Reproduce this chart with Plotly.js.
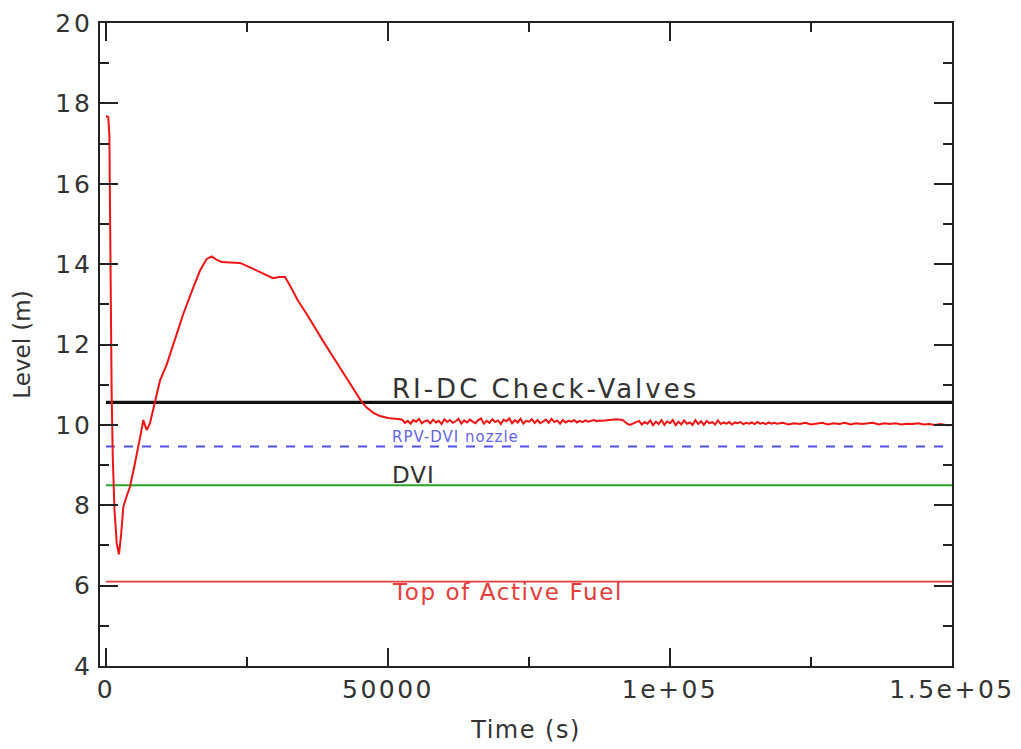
<!DOCTYPE html>
<html>
<head>
<meta charset="utf-8">
<script src="https://cdn.plot.ly/plotly-3.0.1.min.js"></script>
<style>html,body{margin:0;padding:0;background:#fff;}</style>
</head>
<body>
<div id="chart" style="width:1021px;height:749px;"></div>
<script>
// ---- Level history (time in s, level in m) ----
const timeS = [
  0, 400, 600, 800, 1000, 1200, 1500, 1900, 2300, 2700, 3070, 3600, 4250, 5000, 5730, 6200, 6610, 6900, 7210, 7800,
  8690, 9570, 10760, 12200, 13700, 15480, 16670, 17850, 18740, 19500, 20510, 22000, 23760, 25530, 27000, 28490, 29610, 30700, 31740, 32620,
  34000, 35580, 37000, 38470, 40000, 41490, 43000, 44450, 45300, 46220, 47400, 48580, 50000, 52130,
  52500, 53000, 53500, 54000, 54500, 55000, 55500, 56000, 56500, 57000,
  57500, 58000, 58500, 59000, 59500, 60000, 60500, 61000, 61500, 62000,
  62500, 63000, 63500, 64000, 64500, 65000, 65500, 66000, 66500, 67000,
  67500, 68000, 68500, 69000, 69500, 70000, 70500, 71000, 71500, 72000,
  72500, 73000, 73500, 74000, 74500, 75000, 75500, 76000, 76500, 77000,
  77500, 78000, 78500, 79000, 79500, 80000, 80500, 81000, 81500, 82000,
  82500, 83000, 83500, 84000, 84500, 85000, 85500, 86000, 86500, 87000, 87500,
  88000, 89400, 90500, 91600, 92400, 92900, 93500, 94000,
  94500, 95000, 95500, 96000, 96500, 97000, 97500, 98000, 98500, 99000,
  99500, 100000, 100500, 101000, 101500, 102000, 102500, 103000, 103500, 104000,
  104500, 105000, 105500, 106000, 106500, 107000, 107500, 108000, 108500, 109000,
  109500, 110000, 110500, 111000, 111500, 112000, 112500, 113000, 113500, 114000,
  114500, 115000, 115500, 116000, 116500, 117000, 117500, 118000, 118500, 119000,
  120000, 121000, 122000, 123000, 124000, 125000, 126000, 127000, 128000, 129000,
  130000, 131000, 132000, 133000, 134000, 135000, 136000, 137000, 138000, 139000,
  140000, 141000, 142000, 143000, 144000, 145000, 146000, 147000, 148000, 149000, 150000
];
const levelM = [
  17.68, 17.66, 17.2, 13.5, 10.8, 9.2, 7.9, 7.05, 6.78, 7.3, 7.96, 8.2, 8.46, 8.95, 9.42, 9.8, 10.12, 10.0, 9.87, 10.04,
  10.55, 11.1, 11.5, 12.1, 12.76, 13.42, 13.84, 14.13, 14.19, 14.12, 14.05, 14.04, 14.03, 13.92, 13.82, 13.72, 13.65, 13.68, 13.68, 13.47,
  13.1, 12.76, 12.42, 12.09, 11.75, 11.43, 11.1, 10.77, 10.58, 10.43, 10.3, 10.22, 10.17, 10.14,
  10.13, 10.05, 10.10, 10.03, 10.12, 10.08, 10.15, 10.04, 10.09, 10.11,
  10.04, 10.13, 10.06, 10.10, 10.02, 10.14, 10.07, 10.12, 10.05, 10.09,
  10.15, 10.03, 10.11, 10.06, 10.13, 10.08, 10.04, 10.12, 10.16, 10.03,
  10.10, 10.05, 10.14, 10.07, 10.11, 10.02, 10.13, 10.09, 10.16, 10.04,
  10.12, 10.06, 10.15, 10.03, 10.10, 10.08, 10.14, 10.05, 10.12, 10.04,
  10.09, 10.13, 10.05, 10.15, 10.07, 10.11, 10.03, 10.12, 10.06, 10.10,
  10.08, 10.12, 10.06, 10.10, 10.07, 10.11, 10.08, 10.10, 10.12, 10.09, 10.11,
  10.10, 10.13, 10.14, 10.12, 10.03, 10.00, 10.04, 10.08,
  10.10, 10.01, 10.07, 10.03, 10.11, 9.99, 10.08, 10.02, 10.12, 10.00,
  10.09, 10.04, 10.12, 9.99, 10.08, 10.01, 10.11, 10.03, 10.06, 10.00,
  10.12, 10.02, 10.09, 10.00, 10.10, 10.04, 10.07, 10.01, 10.11, 10.02,
  10.06, 10.03, 10.07, 10.01, 10.06, 10.04, 10.07, 10.02, 10.05, 10.03,
  10.06, 10.02, 10.07, 10.03, 10.05, 10.02, 10.06, 10.03, 10.05, 10.03,
  10.05, 10.01, 10.04, 10.02, 10.05, 10.01, 10.03, 10.05, 10.01, 10.04,
  10.02, 10.05, 10.01, 10.04, 10.02, 10.03, 10.05, 10.01, 10.04, 10.02,
  10.04, 10.01, 10.03, 10.02, 10.04, 10.01, 10.02, 10.00, 10.02, 9.99, 10.00
];

// ---- Reference elevations ----
const refNames  = ["RI-DC Check-Valves", "RPV-DVI nozzle", "DVI", "Top of Active Fuel"];
const refLevels = [10.56, 9.46, 8.50, 6.10];
const refSpan   = [0, 150000];
const refLabelY = [10.89, 9.70, 8.75, 5.84];

// ---- Axis ticks ----
const xTickVals = [0, 50000, 100000, 150000];
const xTickText = ["0", "50000", "1e+05", "1.5e+05"];
const yTickVals = [4, 6, 8, 10, 12, 14, 16, 18, 20];
const yTickText = ["4", "6", "8", "10", "12", "14", "16", "18", "20"];

const refStyles = [
  {color: "#111111", width: 3.4, dash: "solid"},
  {color: "rgb(80,80,235)", width: 2, dash: "dash"},
  {color: "rgb(40,165,40)", width: 2, dash: "solid"},
  {color: "rgb(230,60,60)", width: 1.6, dash: "solid"}
];
const labelStyles = [
  {color: "#333333", size: 26, spacing: 3},
  {color: "rgb(100,100,235)", size: 15, spacing: 1},
  {color: "#333333", size: 23, spacing: 1},
  {color: "rgb(230,60,60)", size: 23, spacing: 1.6}
];

const traces = refLevels.map((lv, i) => ({
  x: refSpan, y: [lv, lv], mode: "lines", type: "scatter",
  line: refStyles[i], hoverinfo: "skip", showlegend: false
}));
traces.push({
  x: timeS, y: levelM, mode: "lines", type: "scatter",
  line: {color: "rgb(240,20,20)", width: 2}, showlegend: false
});

const annotations = refNames.map((t, i) => ({
  text: t, x: 50300, y: refLabelY[i], xref: "x", yref: "y",
  xanchor: "left", yanchor: "middle", showarrow: false,
  font: {family: "DejaVu Sans", size: labelStyles[i].size, color: labelStyles[i].color}
}));

const axisCommon = {
  showgrid: false, zeroline: false, showline: true, linecolor: "#222", linewidth: 2,
  mirror: "allticks", ticks: "inside", ticklen: 18, tickwidth: 2, tickcolor: "#222",
  tickfont: {family: "DejaVu Sans", size: 25, color: "#333"}
};

const layout = {
  width: 1021, height: 749,
  margin: {l: 100, r: 69, t: 23, b: 83},
  paper_bgcolor: "#fff", plot_bgcolor: "#fff",
  showlegend: false,
  xaxis: Object.assign({}, axisCommon, {
    range: [-1064, 150000], tickmode: "array", tickvals: xTickVals, ticktext: xTickText,
    minor: {dtick: 25000, tick0: 0, ticks: "inside", ticklen: 9, tickwidth: 2, tickcolor: "#222"},
    title: {text: "Time (s)", font: {family: "DejaVu Sans", size: 24, color: "#333"}, standoff: 18}
  }),
  yaxis: Object.assign({}, axisCommon, {
    range: [4, 20], tickmode: "array", tickvals: yTickVals, ticktext: yTickText,
    minor: {dtick: 1, tick0: 0, ticks: "inside", ticklen: 9, tickwidth: 2, tickcolor: "#222"},
    title: {text: "Level (m)", font: {family: "DejaVu Sans", size: 23, color: "#333"}, standoff: 24}
  }),
  annotations: annotations
};

Plotly.newPlot("chart", traces, layout, {displayModeBar: false, staticPlot: true}).then(gd => {
  gd.querySelectorAll(".annotation-text").forEach((el, i) => {
    if (!labelStyles[i]) return;
    const before = el.getBBox().x;
    el.style.letterSpacing = labelStyles[i].spacing + "px";
    const after = el.getBBox().x;
    const dx = before - after;
    const x0 = parseFloat(el.getAttribute("x") || "0");
    el.setAttribute("x", x0 + dx);
    el.querySelectorAll("tspan[x]").forEach(ts => {
      ts.setAttribute("x", parseFloat(ts.getAttribute("x")) + dx);
    });
  });
  gd.querySelectorAll(".xtick text").forEach(el => { el.style.letterSpacing = "2.5px"; });
  gd.querySelectorAll(".ytick text").forEach(el => { el.style.letterSpacing = "3px"; });
  const xt = gd.querySelector(".xtitle");
  if (xt) xt.style.letterSpacing = "1.5px";
});
</script>
</body>
</html>
